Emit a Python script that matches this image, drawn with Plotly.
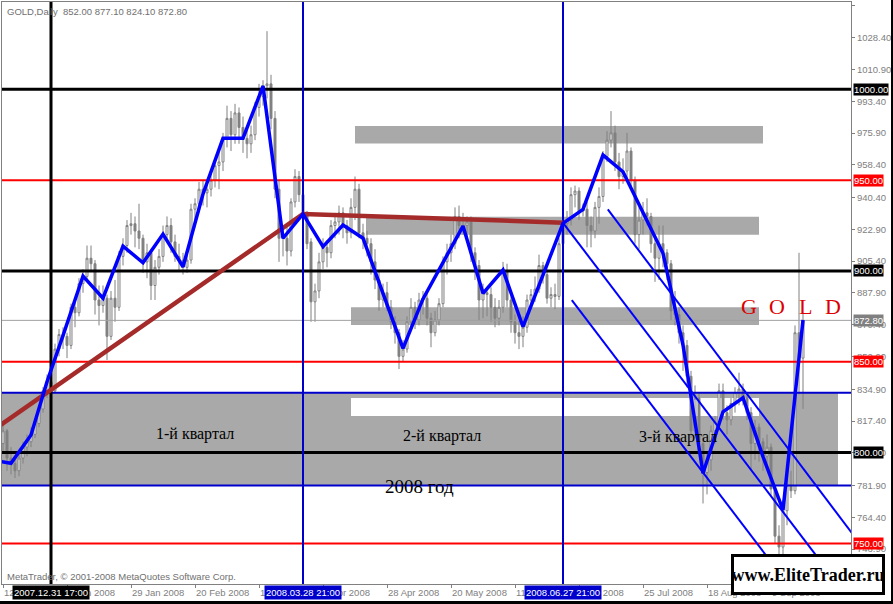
import plotly.graph_objects as go

# ---------------- data ----------------
open_ = [805,812,797,794,790,797,803,806,810,816, 824,834,839,834,857,865,864,859,880,877,
         893,897,907,904,884,881,885,864,885,880, 908,914,925,926,922,918,905,910,892,902,
         908,920,925,916,908,906,902,906,934,937, 945,943,945,950,958,960,973,984,975,987,
         979,973,970,975,990,996,1002,1003,984,945, 918,918,911,938,952,942,931,916,883,889,
         905,913,910,925,927,932,925,921,935,945, 921,918,915,905,895,884,888,880,872,866,
         853,857,872,880,873,884,885,874,866,873, 882,905,910,915,930,922,925,927,910,903,
         884,888,887,880,874,880,900,884,872,866, 864,869,884,887,890,903,898,885,887,886,
         915,926,928,942,944,933,934,925,922,935, 941,963,972,976,960,952,955,966,950,920,
         928,932,930,915,907,915,910,904,878,876, 866,859,842,812,830,805,789,796,812,817,
         834,822,818,827,833,835,830,822,805,814, 806,798,803,780,754,748,768,782,779,866,
         852]
high_ = [816,813,803,796,800,806,810,814,818,826, 836,843,842,860,868,869,866,882,884,896,
         901,914,914,906,892,892,887,889,895,911, 918,928,932,930,937,920,915,912,906,912,
         925,930,929,920,915,910,910,937,940,949, 950,949,955,962,968,976,991,988,992,990,
         985,978,980,993,1003,1005,1032,1008,988,950, 925,925,940,956,955,944,933,918,893,910,
         918,917,928,932,936,935,928,940,952,948, 926,922,918,912,900,893,894,884,875,868,
         862,875,885,883,888,889,888,877,878,885, 908,915,920,935,936,932,930,930,913,906,
         893,890,891,885,884,905,904,886,876,873, 875,887,890,897,909,905,901,891,893,918,
         930,933,946,947,946,937,938,930,938,946, 966,977,988,980,965,962,976,968,952,935,
         938,940,932,920,925,925,912,906,889,880, 870,862,845,837,833,810,800,815,820,838,
         838,826,830,836,844,838,833,825,818,816, 808,810,805,782,760,774,790,790,870,910,
         877.1]
low_ = [800,790,788,786,787,794,798,803,808,814, 822,830,830,833,853,857,852,857,869,875,
        888,895,900,876,870,877,851,862,872,878, 903,910,920,913,912,899,896,884,884,898,
        905,916,910,905,900,898,899,904,924,932, 936,935,941,946,945,955,968,966,970,970,
        965,962,965,972,985,991,995,978,940,905, 908,903,908,935,938,926,912,872,872,885,
        901,902,907,918,920,918,915,918,928,918, 912,908,898,890,878,880,878,868,860,846,
        850,855,868,868,870,876,870,858,864,870, 880,898,905,912,918,920,918,905,895,873,
        874,875,872,869,870,877,880,866,860,857, 858,866,880,883,888,893,882,880,879,884,
        912,920,925,935,928,930,913,913,918,926, 938,960,968,955,945,948,950,945,915,912,
        920,925,910,894,895,902,895,873,870,860, 845,836,808,808,800,772,777,790,805,815,
        818,810,815,822,826,826,818,790,796,795, 790,794,776,750,744,742,760,775,777,832,
        824.1]
close_ = [812,797,794,790,797,803,806,810,816,824, 834,839,834,857,865,864,859,880,877,893,
          897,907,904,884,881,885,864,885,880,908, 914,925,926,922,918,905,910,892,902,908,
          920,925,916,908,906,902,906,934,937,945, 943,945,950,958,960,973,984,975,987,979,
          973,970,975,990,996,1002,1003,984,945,918, 918,911,938,952,942,931,915,883,889,905,
          913,910,925,927,932,925,921,935,945,921, 918,915,905,895,884,888,880,872,866,853,
          857,872,880,873,884,885,874,866,873,882, 905,910,915,930,925,925,927,910,903,884,
          888,887,880,874,880,900,884,872,866,864, 869,884,887,890,903,898,885,887,886,915,
          926,928,942,944,933,934,925,922,935,941, 963,972,976,960,952,955,966,950,920,928,
          932,930,915,907,915,910,904,878,876,866, 859,842,812,830,805,789,796,812,817,834,
          822,818,827,833,835,830,822,805,814,806, 798,803,780,754,748,768,782,779,866,852,
          872.8]

# weekly closes (zigzag), bar index of each Friday
weekly_idx = [-3, 2, 7, 11, 15, 20, 25, 30, 35, 40, 45, 50, 55, 60, 65, 70, 75, 80, 85, 90,
              95, 100, 105, 110, 115, 120, 125, 130, 135, 140, 145, 150, 155, 160, 165, 170,
              175, 180, 185, 190, 195, 200]
weekly_close = [796, 794.1, 809.7, 839.0, 864.4, 897.2, 885.0, 913.7, 904.5, 920.3, 902.3,
                942.4, 973.0, 973.0, 1001.8, 918.0, 931.4, 913.4, 925.3, 918.0, 887.7, 857.4,
                884.6, 904.7, 924.7, 887.7, 900.5, 869.3, 897.9, 926.2, 933.9, 963.8, 954.6,
                932.5, 909.7, 859.2, 788.6, 822.5, 830.2, 797.8, 768.4, 873.0]

# x axis ticks (bar index) and their labels
tick_idx = [0, 16, 32, 48, 64, 80, 96, 112, 128, 144, 160, 176, 192]
tick_labels = ["12 Dec 2007", "7 Jan 2008", "29 Jan 2008", "20 Feb 2008", "13 Mar 2008",
               "4 Apr 2008", "28 Apr 2008", "20 May 2008", "11 Jun 2008", "3 Jul 2008",
               "25 Jul 2008", "18 Aug 2008", "9 Sep 2008"]

# y axis ticks (price)
y_tick_vals = [1046.4, 1028.4, 1010.9, 993.4, 975.9, 958.4, 940.4, 922.9, 905.4, 887.9,
               870.4, 852.9, 834.9, 817.4, 799.9, 781.9, 764.4, 746.9]

# horizontal levels
black_levels = [1000, 900, 800]
red_levels = [950, 850, 750]
blue_levels = [833.0, 781.9]
last_price = 872.8

# vertical lines (bar index) and their labels
vline_idx = [12, 75, 140]
vline_labels = ["2007.12.31 17:00", "2008.03.28 21:00", "2008.06.27 21:00"]

# zones: bar index from/to, price low/high
zone_x0 = [-0.25, 87, 88, 90.75, 87]
zone_x1 = [208.75, 189, 190, 189, 189]
zone_lo = [781.9, 820.2, 970.1, 920.0, 870.2]
zone_hi = [833.0, 830.1, 979.8, 929.9, 880.0]
zone_fill = ["#A9A9A9", "#FFFFFF", "#A9A9A9", "#A9A9A9", "#A9A9A9"]

# brown trend line
brown_idx = [-3, 75, 140]
brown_val = [811.5, 931.4, 926.6]

# blue channel rays: two points each
chan_x0 = [151.2, 140.1, 142.2]
chan_y0 = [933.9, 926.2, 884.0]
chan_x1 = [212.2, 203.0, 190.5]
chan_y1 = [755.75, 744.2, 744.2]

# ---------------- figure ----------------
X_RANGE = [-0.25, 212.0]
Y_RANGE = [727.67, 1048.06]
GRAY = "#808080"
SANS = "Liberation Sans"
SERIF = "Liberation Serif"

fig = go.Figure()

shapes = []
for x0, x1, lo, hi, fc in zip(zone_x0, zone_x1, zone_lo, zone_hi, zone_fill):
    shapes.append(dict(type="rect", xref="x", yref="y", x0=x0, x1=x1, y0=lo, y1=hi,
                       fillcolor=fc, line=dict(width=0), layer="below"))

fig.add_trace(go.Candlestick(
    x=list(range(len(close_))), open=open_, high=high_, low=low_, close=close_,
    increasing=dict(line=dict(color=GRAY, width=1), fillcolor="white"),
    decreasing=dict(line=dict(color=GRAY, width=1), fillcolor=GRAY),
    whiskerwidth=0, hoverinfo="skip", showlegend=False))


def hline(v, color, width):
    fig.add_trace(go.Scatter(x=X_RANGE, y=[v, v], mode="lines",
                             line=dict(color=color, width=width),
                             hoverinfo="skip", showlegend=False))


def vline(i, color, width):
    fig.add_trace(go.Scatter(x=[i, i], y=Y_RANGE, mode="lines",
                             line=dict(color=color, width=width),
                             hoverinfo="skip", showlegend=False))


hline(last_price, "#A0A0A0", 1)
for v in red_levels:
    hline(v, "#FF0000", 2)
for v in blue_levels:
    hline(v, "#0000CD", 2)
for v in black_levels:
    hline(v, "#000000", 3)

vline(vline_idx[0], "#000000", 3)
vline(vline_idx[1], "#0000CD", 2)
vline(vline_idx[2], "#0000CD", 2)

fig.add_trace(go.Scatter(x=brown_idx, y=brown_val, mode="lines",
                         line=dict(color="#A52A2A", width=4.5),
                         hoverinfo="skip", showlegend=False))

for xa, ya, xb, yb in zip(chan_x0, chan_y0, chan_x1, chan_y1):
    slope = (yb - ya) / (xb - xa)
    xe = 230
    fig.add_trace(go.Scatter(x=[xa, xe], y=[ya, ya + slope * (xe - xa)], mode="lines",
                             line=dict(color="#0000FF", width=2),
                             hoverinfo="skip", showlegend=False))

fig.add_trace(go.Scatter(x=weekly_idx, y=weekly_close, mode="lines",
                         line=dict(color="#0000FF", width=3.5),
                         hoverinfo="skip", showlegend=False))

ann = []
# x tick labels
for i, t in zip(tick_idx, tick_labels):
    ann.append(dict(x=i, xref="x", y=0, yref="paper", xanchor="left", yanchor="top",
                    xshift=-1, yshift=-1, text=t, showarrow=False,
                    font=dict(family=SANS, size=9.5, color=GRAY)))
# vertical line date boxes
for i, t, c in zip(vline_idx, vline_labels, ["#000000", "#0000CD", "#0000CD"]):
    ann.append(dict(x=i, xref="x", y=0, yref="paper", xanchor="center", yanchor="top",
                    yshift=-1, text=t, showarrow=False, bgcolor=c, borderpad=1,
                    font=dict(family=SANS, size=9.5, color="white")))
# price boxes on the right axis
price_boxes = [(1000, "#000000"), (950, "#FF0000"), (900, "#000000"), (last_price, GRAY),
               (850, "#FF0000"), (800, "#000000"), (750, "#FF0000")]
for v, c in price_boxes:
    ann.append(dict(x=1, xref="paper", y=v, yref="y", xanchor="left", yanchor="middle",
                    xshift=2, text=f"{v:.2f}", showarrow=False, bgcolor=c, borderpad=0,
                    font=dict(family=SANS, size=9.5, color="white")))
# header & copyright
ann.append(dict(x=0, xref="paper", y=1, yref="paper", xanchor="left", yanchor="top",
                xshift=3, yshift=-2,
                text="GOLD,Daily\u00a0\u00a0852.00 877.10 824.10 872.80", showarrow=False,
                font=dict(family=SANS, size=9.5, color="#707070")))
ann.append(dict(x=0, xref="paper", y=0, yref="paper", xanchor="left", yanchor="bottom",
                xshift=3, yshift=0,
                text="MetaTrader, © 2001-2008 MetaQuotes Software Corp.", showarrow=False,
                font=dict(family=SANS, size=9.5, color="#707070")))
# quarter captions
for x, y, t, s in [(48, 810.3, "1-й квартал", 16), (109.75, 809.2, "2-й квартал", 16),
                   (168.75, 808.6, "3-й квартал", 16), (104, 781.5, "2008 год", 19)]:
    ann.append(dict(x=x, xref="x", y=y, yref="y", text=t, showarrow=False,
                    xanchor="center", yanchor="middle",
                    font=dict(family=SERIF, size=s, color="black")))
# G O L D
for x, ch in zip([186.4, 193.6, 200.5, 207.6], ["G", "O", "L", "D"]):
    ann.append(dict(x=x, xref="x", y=880.2, yref="y", text=ch, showarrow=False,
                    xanchor="center", yanchor="middle",
                    font=dict(family=SERIF, size=22, color="#DD0000")))
# watermark box
ann.append(dict(x=0.9494, xref="paper", y=0.0163, yref="paper", xanchor="center",
                yanchor="middle", width=148, height=35, text="<b>www.EliteTrader.ru</b>",
                showarrow=False, bgcolor="white", bordercolor="black", borderwidth=3,
                borderpad=0, font=dict(family=SERIF, size=18, color="black")))

# figure is 891x601; the remaining window strip shows the black page background
fig.update_layout(
    width=891, height=601, margin=dict(l=2, r=40, t=2, b=17, autoexpand=False),
    paper_bgcolor="white", plot_bgcolor="white", showlegend=False,
    shapes=shapes, annotations=ann, hovermode=False,
    xaxis=dict(range=X_RANGE, autorange=False, showgrid=False, zeroline=False,
               showline=True, mirror=True, linecolor=GRAY, linewidth=1,
               ticks="outside", ticklen=3, tickcolor=GRAY, tickvals=tick_idx,
               showticklabels=False, rangeslider=dict(visible=False), automargin=False),
    yaxis=dict(range=Y_RANGE, autorange=False, side="right", showgrid=False,
               zeroline=False, showline=True, mirror=True, linecolor=GRAY, linewidth=1,
               ticks="outside", ticklen=3, tickcolor=GRAY, tickvals=y_tick_vals,
               ticktext=[f"{v:.2f}" for v in y_tick_vals], automargin=False,
               tickfont=dict(family=SANS, size=9.5, color=GRAY)),
)

fig.write_html("out.html", config={"displayModeBar": False},
               post_script="document.body.style.margin='0';"
                           "document.body.style.overflow='hidden';"
                           "document.body.style.background='black';"
                           "document.documentElement.style.background='black';")
